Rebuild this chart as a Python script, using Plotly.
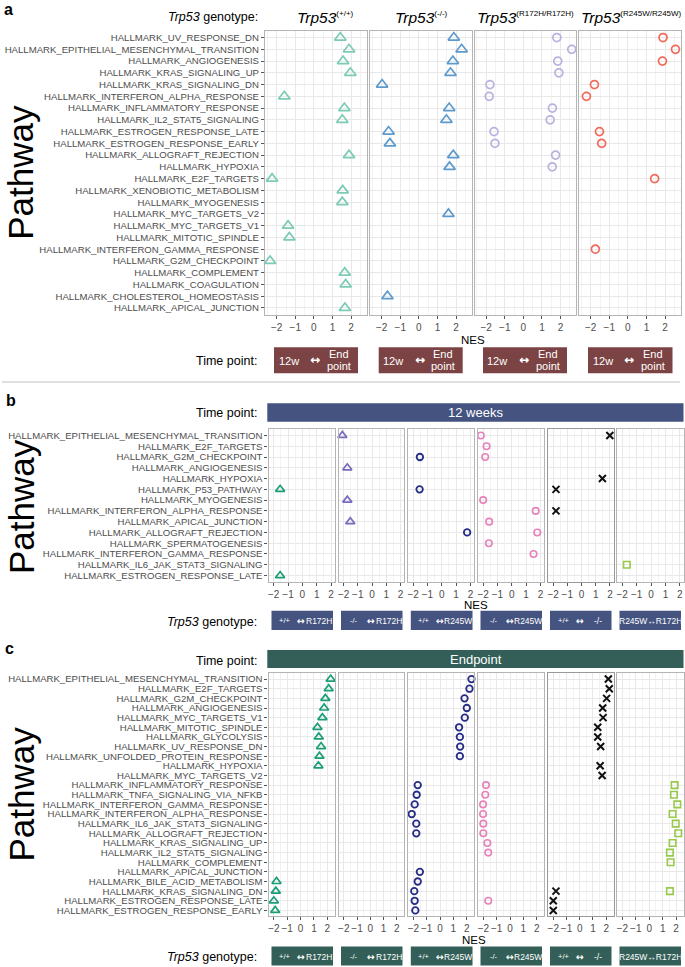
import plotly.graph_objects as go

W, H = 685, 967

# ---------------- DATA ----------------
# Panel a : 12w <-> Endpoint, per genotype
a_pathways = ["HALLMARK_UV_RESPONSE_DN", "HALLMARK_EPITHELIAL_MESENCHYMAL_TRANSITION", "HALLMARK_ANGIOGENESIS",
              "HALLMARK_KRAS_SIGNALING_UP", "HALLMARK_KRAS_SIGNALING_DN", "HALLMARK_INTERFERON_ALPHA_RESPONSE",
              "HALLMARK_INFLAMMATORY_RESPONSE", "HALLMARK_IL2_STAT5_SIGNALING", "HALLMARK_ESTROGEN_RESPONSE_LATE",
              "HALLMARK_ESTROGEN_RESPONSE_EARLY", "HALLMARK_ALLOGRAFT_REJECTION", "HALLMARK_HYPOXIA",
              "HALLMARK_E2F_TARGETS", "HALLMARK_XENOBIOTIC_METABOLISM", "HALLMARK_MYOGENESIS",
              "HALLMARK_MYC_TARGETS_V2", "HALLMARK_MYC_TARGETS_V1", "HALLMARK_MITOTIC_SPINDLE",
              "HALLMARK_INTERFERON_GAMMA_RESPONSE", "HALLMARK_G2M_CHECKPOINT", "HALLMARK_COMPLEMENT",
              "HALLMARK_COAGULATION", "HALLMARK_CHOLESTEROL_HOMEOSTASIS", "HALLMARK_APICAL_JUNCTION"]
a_wt = [1.42, 1.89, 1.57, 1.96, None, -1.59, 1.64, 1.53, None, None, 1.89, None,
        -2.25, 1.55, 1.53, None, -1.39, -1.32, None, -2.36, 1.66, 1.71, None, 1.67]
a_ko = [1.88, 2.30, 1.83, 1.70, -1.98, None, 1.63, 1.48, -1.63, -1.56, 1.85, 1.65,
        None, None, None, 1.59, None, None, None, None, None, None, -1.69, None]
a_r172h = [1.80, 2.60, 1.85, 1.91, -1.80, -1.84, 1.56, 1.44, -1.58, -1.53, 1.73, 1.55,
           None, None, None, None, None, None, None, None, None, None, None, None]
a_r245w = [1.89, 2.56, 1.86, None, -1.80, -2.23, None, None, -1.53, -1.41, None, None,
           1.44, None, None, None, None, None, -1.75, None, None, None, None, None]
a_titles = ["(+/+)", "(-/-)", "(R172H/R172H)", "(R245W/R245W)"]

# Panel b : 12 weeks, genotype comparisons
b_pathways = ["HALLMARK_EPITHELIAL_MESENCHYMAL_TRANSITION", "HALLMARK_E2F_TARGETS", "HALLMARK_G2M_CHECKPOINT",
              "HALLMARK_ANGIOGENESIS", "HALLMARK_HYPOXIA", "HALLMARK_P53_PATHWAY", "HALLMARK_MYOGENESIS",
              "HALLMARK_INTERFERON_ALPHA_RESPONSE", "HALLMARK_APICAL_JUNCTION", "HALLMARK_ALLOGRAFT_REJECTION",
              "HALLMARK_SPERMATOGENESIS", "HALLMARK_INTERFERON_GAMMA_RESPONSE", "HALLMARK_IL6_JAK_STAT3_SIGNALING",
              "HALLMARK_ESTROGEN_RESPONSE_LATE"]
b_wt_r172h = [None, None, None, None, None, -1.55, None, None, None, None, None, None, None, -1.55]
b_ko_r172h = [-2.09, None, None, -1.74, None, None, -1.74, None, -1.53, None, None, None, None, None]
b_wt_r245w = [None, None, -1.53, None, None, -1.55, None, None, None, 1.77, None, None, None, None]
b_ko_r245w = [-2.16, -1.76, -1.86, None, None, None, -2.0, 1.67, -1.58, 1.78, -1.6, 1.52, None, None]
b_wt_ko = [1.99, None, None, None, 1.47, -1.8, None, -1.8, None, None, None, None, None, None]
b_r245w_r172h = [None, None, None, None, None, None, None, None, None, None, None, None, -1.68, None]

# Panel c : Endpoint, genotype comparisons
c_pathways = ["HALLMARK_EPITHELIAL_MESENCHYMAL_TRANSITION", "HALLMARK_E2F_TARGETS", "HALLMARK_G2M_CHECKPOINT",
              "HALLMARK_ANGIOGENESIS", "HALLMARK_MYC_TARGETS_V1", "HALLMARK_MITOTIC_SPINDLE", "HALLMARK_GLYCOLYSIS",
              "HALLMARK_UV_RESPONSE_DN", "HALLMARK_UNFOLDED_PROTEIN_RESPONSE", "HALLMARK_HYPOXIA",
              "HALLMARK_MYC_TARGETS_V2", "HALLMARK_INFLAMMATORY_RESPONSE", "HALLMARK_TNFA_SIGNALING_VIA_NFKB",
              "HALLMARK_INTERFERON_GAMMA_RESPONSE", "HALLMARK_INTERFERON_ALPHA_RESPONSE",
              "HALLMARK_IL6_JAK_STAT3_SIGNALING", "HALLMARK_ALLOGRAFT_REJECTION", "HALLMARK_KRAS_SIGNALING_UP",
              "HALLMARK_IL2_STAT5_SIGNALING", "HALLMARK_COMPLEMENT", "HALLMARK_APICAL_JUNCTION",
              "HALLMARK_BILE_ACID_METABOLISM", "HALLMARK_KRAS_SIGNALING_DN", "HALLMARK_ESTROGEN_RESPONSE_LATE",
              "HALLMARK_ESTROGEN_RESPONSE_EARLY"]
c_wt_r172h = [2.25, 2.10, 1.85, 1.76, 1.63, 1.26, 1.36, 1.53, 1.41, 1.33, None, None, None, None, None,
              None, None, None, None, None, None, -1.80, -1.85, -2.0, -1.90]
c_ko_r172h = [None] * 25
c_wt_r245w = [2.36, 2.21, 1.84, 2.01, 1.86, 1.43, 1.49, 1.51, 1.49, None, None, -1.67, -1.75, -1.90, -2.12,
              -1.78, -1.78, None, None, None, -1.51, -1.67, -1.93, -1.90, -1.85]
c_ko_r245w = [None, None, None, None, None, None, None, None, None, None, None, -1.80, -1.85, -2.02, -2.02,
              -2.0, -2.0, -1.70, -1.63, None, None, None, None, -1.63, None]
c_wt_ko = [2.16, 2.23, 2.03, 1.73, 1.76, 1.36, 1.36, 1.58, None, 1.54, 1.69, None, None, None, None,
           None, None, None, None, None, None, None, -1.80, -2.0, -2.0]
c_r245w_r172h = [None, None, None, None, None, None, None, None, None, None, None, 1.89, 1.84, 2.09, 1.74,
                 1.97, 2.16, 1.74, 1.54, 1.59, None, None, 1.54, None, None]

comp_left = ["+/+", "-/-", "+/+", "-/-", "+/+", None]
comp_right = ["R172H", "R172H", "R245W", "R245W", "-/-", None]
comp_full6 = "R245W\u2194R172H"

# ---------------- STYLE / LAYOUT ----------------
FONT = "Liberation Sans, Arial, sans-serif"
ARROWFONT = "DejaVu Sans, Liberation Sans, sans-serif"
GRID = "#e8e8e8"
MINOR = "#f3f3f3"
BORDER = "#b4b4b4"
TXT = "#4d4d4d"


def X(px):
    return px / W


def Y(py):
    return 1 - py / H


fig = go.Figure()
layout = {}
annotations = []
shapes = []
count = [0]


def add_panel(xd, yd, xr, pathways, values, color, symbol, size, lw, show_y, border=BORDER):
    count[0] += 1
    k = count[0]
    xa, ya = ("x", "y") if k == 1 else (f"x{k}", f"y{k}")
    xname, yname = ("xaxis", "yaxis") if k == 1 else (f"xaxis{k}", f"yaxis{k}")
    fig.add_trace(go.Scatter(
        x=values, y=pathways, mode="markers", xaxis=xa, yaxis=ya, showlegend=False,
        cliponaxis=False, hoverinfo="x+y",
        marker=dict(symbol=symbol, size=size, color=color, line=dict(color=color, width=lw))))
    n = len(pathways)
    layout[xname] = dict(
        domain=[X(xd[0]), X(xd[1])], range=xr, anchor=ya, tickmode="array",
        tickvals=[-2, -1, 0, 1, 2], ticktext=["\u22122", "\u22121", "0", "1", "2"], tickangle=0,
        showgrid=True, gridcolor=GRID, gridwidth=1,
        minor=dict(tick0=0, dtick=0.5, showgrid=True, gridcolor=MINOR, gridwidth=0.6),
        zeroline=False, showline=True, mirror=True, linecolor=border, linewidth=1.2,
        ticks="outside", ticklen=3, tickcolor="#555", tickwidth=0.8,
        tickfont=dict(size=10, color=TXT, family=FONT), fixedrange=True)
    layout[yname] = dict(
        domain=[Y(yd[1]), Y(yd[0])], type="category", categoryorder="array",
        categoryarray=pathways, range=[n - 0.4, -0.6], anchor=xa,
        tickmode="array", tickvals=pathways, ticktext=pathways, tickangle=0,
        showgrid=True, gridcolor=GRID, gridwidth=1, zeroline=False,
        showline=True, mirror=True, linecolor=border, linewidth=1.2,
        ticks="outside" if show_y else "", ticklen=3, tickcolor="#555", tickwidth=0.8,
        showticklabels=show_y, tickfont=dict(size=9.6, color=TXT, family=FONT), fixedrange=True)


def text(px, py, s, size=12.5, color="black", xanchor="center", angle=0, bold=False, family=FONT):
    annotations.append(dict(
        x=X(px), y=Y(py), xref="paper", yref="paper", text=("<b>%s</b>" % s) if bold else s,
        showarrow=False, xanchor=xanchor, yanchor="middle", textangle=angle,
        font=dict(size=size, color=color, family=family)))


def rect(x0, x1, y0, y1, color):
    shapes.append(dict(type="rect", xref="paper", yref="paper", x0=X(x0), x1=X(x1),
                       y0=Y(y1), y1=Y(y0), fillcolor=color, line=dict(width=0), layer="below"))


# ---- Panel a ----
a_x = [(265, 366.5), (370, 471.5), (474.5, 576), (579, 680.5)]
a_y = (30.5, 315)
a_range = [-2.63, 2.83]
a_vals = [a_wt, a_ko, a_r172h, a_r245w]
a_colors = ["#7ccbb6", "#5e9bcc", "#b9b2de", "#f26a5a"]
a_sym = ["triangle-up-open", "triangle-up-open", "circle-open", "circle-open"]
a_size = [10, 10, 8, 8]
for i in range(4):
    add_panel(a_x[i], a_y, a_range, a_pathways, a_vals[i], a_colors[i], a_sym[i], a_size[i], 1.7, i == 0)

text(2, 9, "a", size=16, xanchor="left", bold=True)
text(260, 17, "<i>Trp53</i> genotype:", size=12.5, xanchor="right")
a_title_x = [325, 421, 525, 631]
for i in range(4):
    text(a_title_x[i], 17, "<i>Trp53</i><sup><span style='font-size:8px'>%s</span></sup>" % a_titles[i],
         size=15.5)
text(473, 340, "NES", size=11.5)
text(259, 360.7, "Time point:", size=12.5, xanchor="right")
a_box = [(274, 358), (378.7, 462.7), (483, 567), (588, 672.5)]
for (x0, x1) in a_box:
    rect(x0, x1, 347.3, 373.3, "#7b4343")
    text(x0 + 14.5, 360.7, "12w", size=11, color="white")
    text((x0 + x1) / 2 - 1, 360.2, "<b>\u2194</b>", size=12, color="white", family=ARROWFONT)
    text(x0 + 64.5, 353.7, "End", size=11, color="white")
    text(x0 + 64.5, 366.2, "point", size=11, color="white")
text(21, 172.8, "Pathway", size=35, angle=-90)

shapes.append(dict(type="line", xref="paper", yref="paper", x0=X(2), x1=X(680), y0=Y(382), y1=Y(382),
                   line=dict(color="#d6d6d6", width=1.5)))

# ---- Panels b & c (shared columns) ----
bc_x = [(268.5, 334.7), (338.5, 404), (408, 474), (478, 544), (548, 613.5), (617, 683.5)]
bc_colors = ["#1b9e77", "#776cbd", "#262d86", "#e783bb", "#111111", "#97c94b"]
bc_sym = ["triangle-up-open", "triangle-up-open", "circle-open", "circle-open", "x-thin-open", "square-open"]
bc_size = [8, 8, 6.5, 6.5, 7, 6.5]
bc_lw = [1.7, 1.7, 1.8, 1.6, 2.0, 1.6]
bc_box = [(271.5, 333), (341, 402.5), (410.8, 472.5), (480.5, 542), (550, 611.5), (619.5, 681)]


def comparison_boxes(y0, y1, color):
    yc = (y0 + y1) / 2 + 0.5
    for i, (x0, x1) in enumerate(bc_box):
        rect(x0, x1, y0, y1, color)
        if comp_left[i] is None:
            text((x0 + x1) / 2, yc, comp_full6, size=8.5, color="white")
        else:
            text(x0 + 13, yc, comp_left[i], size=7.5, color="white")
            text(x0 + 29.5, yc - 0.5, "<b>\u2194</b>", size=9.5, color="white", family=ARROWFONT)
            text(x0 + 47.5, yc, comp_right[i], size=8.5, color="white")


# Panel b
b_y = (429, 582)
b_range = [-2.36, 2.25]
b_vals = [b_wt_r172h, b_ko_r172h, b_wt_r245w, b_ko_r245w, b_wt_ko, b_r245w_r172h]
for i in range(6):
    add_panel(bc_x[i], b_y, b_range, b_pathways, b_vals[i], bc_colors[i], bc_sym[i], bc_size[i], bc_lw[i],
              i == 0, border="#999999" if i == 4 else BORDER)
text(4, 400, "b", size=16, xanchor="left", bold=True)
text(259, 413, "Time point:", size=12.5, xanchor="right")
rect(267.3, 683.5, 403.3, 421.7, "#44537f")
text(475.5, 412.5, "12 weeks", size=13, color="white")
text(476, 605, "NES", size=11.5)
text(259, 621.7, "<i>Trp53</i> genotype:", size=12.5, xanchor="right")
comparison_boxes(610.7, 630, "#44537f")
text(21, 507, "Pathway", size=35, angle=-90)

# Panel c
c_y = (673.3, 916.2)
c_range = [-2.4, 2.55]
c_vals = [c_wt_r172h, c_ko_r172h, c_wt_r245w, c_ko_r245w, c_wt_ko, c_r245w_r172h]
for i in range(6):
    add_panel(bc_x[i], c_y, c_range, c_pathways, c_vals[i], bc_colors[i], bc_sym[i], bc_size[i], bc_lw[i],
              i == 0, border="#999999" if i == 4 else BORDER)
text(3, 648.5, "c", size=16, xanchor="left", bold=True)
text(259, 660.5, "Time point:", size=12.5, xanchor="right")
rect(267.3, 683.5, 650, 668, "#335f58")
text(475.5, 659.3, "Endpoint", size=13, color="white")
text(474, 939.5, "NES", size=11.5)
text(259, 956.5, "<i>Trp53</i> genotype:", size=12.5, xanchor="right")
comparison_boxes(946.5, 965.5, "#335f58")
text(21, 794.5, "Pathway", size=35, angle=-90)

fig.update_layout(
    width=W, height=H, autosize=False, margin=dict(l=0, r=0, t=0, b=0),
    paper_bgcolor="white", plot_bgcolor="white", showlegend=False,
    font=dict(family=FONT, color="black"), annotations=annotations, shapes=shapes, **layout)

fig.write_html("out.html", config={"displayModeBar": False},
               post_script="document.body.style.margin='0';document.body.style.padding='0';")
